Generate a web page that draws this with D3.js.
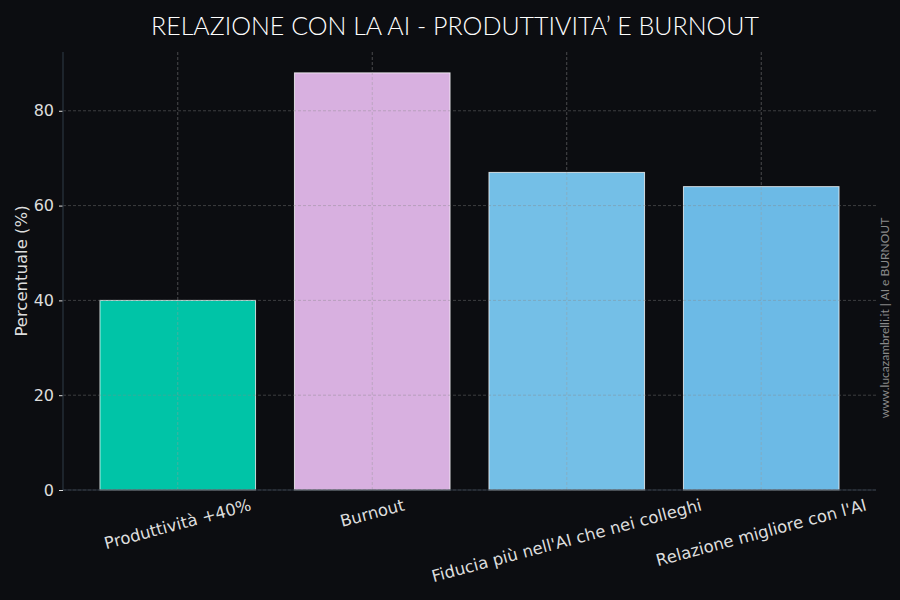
<!DOCTYPE html>
<html lang="it">
<head>
    <meta charset="UTF-8">
    <title>Relazione con la AI - Produttività e Burnout</title>
    <style>
        body, html {
            margin: 0;
            padding: 0;
            width: 100%;
            height: 100%;
            overflow: hidden;
            background: #0c0d11;
        }
        #chart text {
            font-family: "DejaVu Sans", sans-serif;
        }
    </style>
</head>
<body>
    <svg id="chart" width="900" height="600"></svg>

    <script src="https://cdnjs.cloudflare.com/ajax/libs/d3/7.8.5/d3.min.js"></script>
    <script>
        // Data
        const categories = [
            "Produttività +40%",
            "Burnout",
            "Fiducia più nell'AI che nei colleghi",
            "Relazione migliore con l'AI"
        ];
        const values = [40, 88, 67, 64];
        const barColors = ["#00c4a7", "#d8b0e0", "#74bfe7", "#6cbae6"];
        const yTicks = [0, 20, 40, 60, 80];

        const width = 900;
        const height = 600;
        const margin = { top: 52, right: 24, bottom: 110, left: 63 };
        const plotW = width - margin.left - margin.right;
        const plotH = height - margin.top - margin.bottom;

        const svg = d3.select("#chart");
        svg.append("rect")
            .attr("width", width)
            .attr("height", height)
            .attr("fill", "#0c0d11");

        const g = svg.append("g")
            .attr("transform", `translate(${margin.left},${margin.top})`);

        // matplotlib-like band layout: bar width 0.8, 5% margins
        const n = categories.length;
        const x = d3.scaleLinear()
            .domain([-0.4 - 0.05 * (n - 0.2), n - 0.6 + 0.05 * (n - 0.2)])
            .range([0, plotW]);
        const y = d3.scaleLinear()
            .domain([0, d3.max(values) * 1.05])
            .range([plotH, 0]);

        // bars
        g.selectAll("rect.bar")
            .data(values)
            .enter()
            .append("rect")
            .attr("class", "bar")
            .attr("x", (d, i) => x(i - 0.4))
            .attr("width", (d, i) => x(i + 0.4) - x(i - 0.4))
            .attr("y", d => y(d))
            .attr("height", d => y(0) - y(d))
            .attr("fill", (d, i) => barColors[i])
            .attr("stroke", "#ffffff")
            .attr("stroke-opacity", 0.75)
            .attr("stroke-width", 1);

        // grid over the bars
        const grid = g.append("g");
        grid.selectAll("line.h")
            .data(yTicks)
            .enter()
            .append("line")
            .attr("x1", 0)
            .attr("x2", plotW)
            .attr("y1", d => y(d))
            .attr("y2", d => y(d))
            .attr("stroke", "#888888")
            .attr("stroke-opacity", 0.5)
            .attr("stroke-dasharray", "3,2")
            .attr("stroke-width", 0.8);
        grid.selectAll("line.v")
            .data(categories)
            .enter()
            .append("line")
            .attr("x1", (d, i) => x(i))
            .attr("x2", (d, i) => x(i))
            .attr("y1", 0)
            .attr("y2", plotH)
            .attr("stroke", "#999999")
            .attr("stroke-opacity", 0.55)
            .attr("stroke-dasharray", "3,2")
            .attr("stroke-width", 0.8);

        // y axis
        const yAxis = g.append("g")
            .call(d3.axisLeft(y).tickValues(yTicks).tickSize(4).tickPadding(5));
        yAxis.select(".domain").remove();
        yAxis.selectAll(".tick line").attr("stroke", "#dddddd");
        yAxis.selectAll(".tick text")
            .attr("fill", "#dddddd")
            .style("font-size", "16px");

        // spines
        g.append("line")
            .attr("x1", 0).attr("x2", 0)
            .attr("y1", 0).attr("y2", plotH)
            .attr("stroke", "#2a3440").attr("stroke-width", 1.2);
        g.append("line")
            .attr("x1", 0).attr("x2", plotW)
            .attr("y1", plotH).attr("y2", plotH)
            .attr("stroke", "#2a3440").attr("stroke-width", 1.2);

        // x labels, rotated 15deg, centred under the bars
        const angle = 15;
        const rad = angle * Math.PI / 180;
        const lineH = 16;
        g.selectAll("text.xlab")
            .data(categories)
            .enter()
            .append("text")
            .attr("class", "xlab")
            .attr("text-anchor", "middle")
            .attr("dominant-baseline", "central")
            .attr("fill", "#dddddd")
            .style("font-size", "16.5px")
            .text(d => d)
            .each(function(d, i) {
                const len = this.getComputedTextLength();
                const boxH = len * Math.sin(rad) + lineH * Math.cos(rad);
                const cx = x(i);
                const cy = plotH + 7 + boxH / 2;
                d3.select(this)
                    .attr("x", cx)
                    .attr("y", cy)
                    .attr("transform", `rotate(${-angle},${cx},${cy})`);
            });

        // y label
        svg.append("text")
            .attr("transform", `translate(27,${margin.top + plotH / 2}) rotate(-90)`)
            .attr("text-anchor", "middle")
            .attr("fill", "#dddddd")
            .style("font-size", "16.5px")
            .text("Percentuale (%)");

        // title
        svg.append("text")
            .attr("x", 455)
            .attr("y", 35)
            .attr("text-anchor", "middle")
            .attr("fill", "#ffffff")
            .style("font-family", "Lato, sans-serif")
            .style("font-weight", 300)
            .style("font-size", "25px")
            .text("RELAZIONE CON LA AI - PRODUTTIVITA’ E BURNOUT");

        // watermark
        svg.append("text")
            .attr("transform", "translate(889,318) rotate(-90)")
            .attr("text-anchor", "middle")
            .attr("fill", "#8a8a8a")
            .style("font-family", "Lato, sans-serif")
            .style("font-size", "12px")
            .text("www.lucazambrelli.it | AI e BURNOUT");
    </script>
</body>
</html>
